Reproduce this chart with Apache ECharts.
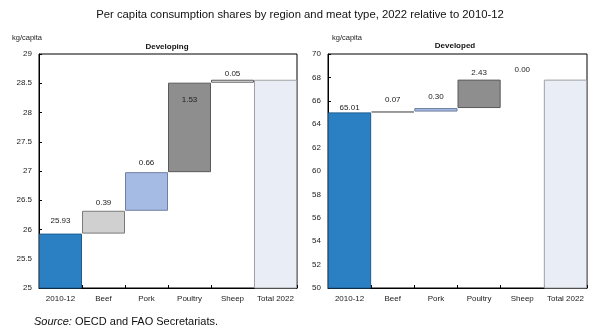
<!DOCTYPE html>
<html>
<head>
<meta charset="utf-8">
<script src="https://cdn.jsdelivr.net/npm/echarts@6/dist/echarts.min.js"></script>
<style>
  html, body { margin: 0; padding: 0; background: #fff; }
  #chart { width: 600px; height: 335px; }
</style>
</head>
<body>
<div id="chart"></div>
<script>
// Categories shared by both panels
const categories = ['2010-12', 'Beef', 'Pork', 'Poultry', 'Sheep', 'Total 2022'];

// Starting level (2010-12) and changes by meat type, kg/capita
const developingSteps = [25.93, 0.39, 0.66, 1.53, 0.05];
const developedSteps = [65.01, 0.07, 0.30, 2.43, 0.00];

// Value axis ticks
const developingTicks = [25, 25.5, 26, 26.5, 27, 27.5, 28, 28.5, 29];
const developedTicks = [50, 52, 54, 56, 58, 60, 62, 64, 66, 68, 70];

// Fill colour per category
const barColors = ['#2a80c3', '#d0d0d0', '#a6bbe4', '#8e8e8e', '#ffffff', '#e9edf6'];
const borderColors = ['#1d5d90', '#7a7a7a', '#6f7f9f', '#5a5a5a', '#555555', '#a0a0a0'];

// Label placement per bar (position, distance)
const developingLabelPos = [['top', 9], ['top', 4], ['top', 5], ['insideTop', 13], ['top', 2]];
const developedLabelPos = [['top', 1], ['top', 8], ['top', 7], ['top', 3], ['top', 6]];

const FONT = '"Liberation Sans", Arial, sans-serif';

function waterfall(steps, labelPos) {
  const base = [];
  const vis = [];
  let level = 0;
  steps.forEach((v, i) => {
    base.push(i === 0 ? 0 : level);
    vis.push(v);
    level += v;
  });
  base.push(0);
  vis.push(+level.toFixed(2));
  const visData = vis.map((v, i) => {
    const item = {
      value: v,
      itemStyle: {
        color: barColors[i],
        borderColor: borderColors[i],
        borderWidth: v === 0 ? 0 : 1
      }
    };
    if (i < steps.length) {
      item.label = {
        show: true,
        position: labelPos[i][0],
        distance: labelPos[i][1],
        formatter: () => steps[i].toFixed(2)
      };
    } else {
      item.label = { show: false };
    }
    return item;
  });
  return { base, visData };
}

function axisPair(gridIndex, ticks, step) {
  const xAxis = {
    type: 'category',
    gridIndex,
    data: categories,
    axisLine: { lineStyle: { color: '#000', width: 1 } },
    axisTick: { show: true, inside: true, length: 3, lineStyle: { color: '#000' } },
    axisLabel: { color: '#222', fontSize: 8, fontFamily: FONT, margin: 7, interval: 0 }
  };
  const yAxis = {
    type: 'value',
    gridIndex,
    min: ticks[0],
    max: ticks[ticks.length - 1],
    interval: step,
    axisLine: { show: true, lineStyle: { color: '#000', width: 1 } },
    axisTick: { show: true, inside: true, length: 3, lineStyle: { color: '#000' } },
    splitLine: { show: false },
    axisLabel: { color: '#222', fontSize: 8, fontFamily: FONT, margin: 7 }
  };
  return { xAxis, yAxis };
}

const dev = waterfall(developingSteps, developingLabelPos);
const dvd = waterfall(developedSteps, developedLabelPos);

const a0 = axisPair(0, developingTicks, 0.5);
const a1 = axisPair(1, developedTicks, 2);

const labelStyle = { color: '#222', fontSize: 8, fontFamily: FONT };

function seriesFor(idx, wf) {
  return [
    {
      type: 'bar', xAxisIndex: idx, yAxisIndex: idx, stack: 's' + idx,
      data: wf.base, itemStyle: { color: 'transparent' }, silent: true,
      barCategoryGap: 0, animation: false
    },
    {
      type: 'bar', xAxisIndex: idx, yAxisIndex: idx, stack: 's' + idx,
      data: wf.visData, barCategoryGap: 0, animation: false,
      label: labelStyle
    }
  ];
}

const chart = echarts.init(document.getElementById('chart'), null, { renderer: 'canvas' });
chart.setOption({
  animation: false,
  title: [
    { text: 'Per capita consumption shares by region and meat type, 2022 relative to 2010-12',
      left: 'center', top: 9, padding: 0,
      textStyle: { fontSize: 11.3, fontWeight: 'normal', color: '#111', fontFamily: FONT } },
    { text: 'Developing', left: 167, top: 43, textAlign: 'center', padding: 0,
      textStyle: { fontSize: 8, fontWeight: 'bold', color: '#111', fontFamily: FONT } },
    { text: 'Developed', left: 455, top: 42, textAlign: 'center', padding: 0,
      textStyle: { fontSize: 8, fontWeight: 'bold', color: '#111', fontFamily: FONT } },
    { text: 'kg/capita', left: 12, top: 34, padding: 0,
      textStyle: { fontSize: 7.5, fontWeight: 'normal', color: '#222', fontFamily: FONT } },
    { text: 'kg/capita', left: 332, top: 34, padding: 0,
      textStyle: { fontSize: 7.5, fontWeight: 'normal', color: '#222', fontFamily: FONT } },
    { text: '{i|Source:} OECD and FAO Secretariats.', left: 34, top: 316, padding: 0,
      textStyle: { fontSize: 11, fontWeight: 'normal', color: '#111', fontFamily: FONT,
        rich: { i: { fontStyle: 'italic', fontSize: 11, color: '#111', fontFamily: FONT } } } }
  ],
  grid: [
    { left: 39, top: 54, width: 258, height: 234, show: true, borderColor: '#000', borderWidth: 1, backgroundColor: 'transparent' },
    { left: 328, top: 54, width: 259, height: 234, show: true, borderColor: '#000', borderWidth: 1, backgroundColor: 'transparent' }
  ],
  xAxis: [a0.xAxis, a1.xAxis],
  yAxis: [a0.yAxis, a1.yAxis],
  series: [...seriesFor(0, dev), ...seriesFor(1, dvd)]
});
</script>
</body>
</html>
